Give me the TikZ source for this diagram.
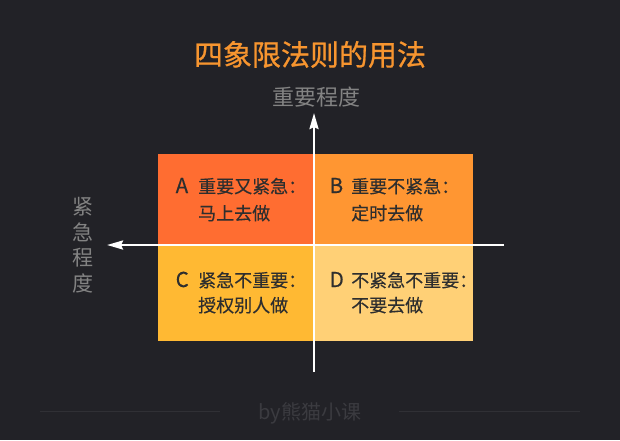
\documentclass[tikz,border=0pt]{standalone}
\usepackage{fontspec}
\setmainfont{Noto Sans CJK SC}
\newfontfamily\titlefont[FakeBold=0.7]{Noto Sans CJK SC}
\newfontfamily\quadfont[FakeBold=0.3]{Noto Sans CJK SC}
\usetikzlibrary{arrows.meta}
\definecolor{bg}{HTML}{222227}
\definecolor{titlec}{HTML}{F7952F}
\definecolor{axislabel}{HTML}{838383}
\definecolor{qacol}{HTML}{FF6D31}
\definecolor{qbcol}{HTML}{FF9632}
\definecolor{qccol}{HTML}{FFB933}
\definecolor{qdcol}{HTML}{FFD076}
\definecolor{qtextc}{HTML}{2E2E2E}
\definecolor{footc}{HTML}{3B3B40}
\definecolor{footline}{HTML}{303035}
\tikzset{
  quad/.style={draw=none, inner sep=0pt, outer sep=0pt, anchor=north west},
  qtext/.style={text=qtextc, inner sep=0pt, anchor=base west, font=\quadfont\fontsize{18}{22}\selectfont},
  qletter/.style={qtext, font=\quadfont\fontsize{20.5}{22}\selectfont},
  axisline/.style={draw=white, line width=2.5pt, -{Stealth[length=16pt,width=9pt,inset=2pt]}},
  axistext/.style={text=axislabel, inner sep=0pt, font=\fontsize{22}{26}\selectfont}
}
\begin{document}
\begin{tikzpicture}[x=1pt,y=-1pt]
\fill[bg] (0,0) rectangle (620,440);
\useasboundingbox (0,0) rectangle (620,440);

% title
\node[text=titlec, inner sep=0pt, anchor=base, font=\titlefont\fontsize{29}{34}\selectfont] (title) at (310,65.5) {四象限法则的用法};

% quadrants
\node[quad, fill=qacol, minimum width=156pt, minimum height=91pt] (qa) at (158,154) {};
\node[quad, fill=qbcol, minimum width=159pt, minimum height=91pt] (qb) at (314,154) {};
\node[quad, fill=qccol, minimum width=156pt, minimum height=96pt] (qc) at (158,245) {};
\node[quad, fill=qdcol, minimum width=159pt, minimum height=96pt] (qd) at (314,245) {};

% quadrant texts
\node[qletter] (la) at (175.5,193) {A};
\node[qtext] (ta1) at (198,193) {重要又紧急：};
\node[qtext] (ta2) at (198,220) {马上去做};
\node[qletter] (lb) at (329.5,193) {B};
\node[qtext] (tb1) at (351,193) {重要不紧急：};
\node[qtext] (tb2) at (351,220) {定时去做};
\node[qletter] (lc) at (175.5,287) {C};
\node[qtext] (tc1) at (198,287) {紧急不重要：};
\node[qtext] (tc2) at (198,312) {授权别人做};
\node[qletter] (ld) at (329.5,287) {D};
\node[qtext] (td1) at (351,287) {不紧急不重要：};
\node[qtext] (td2) at (351,312) {不要去做};

% axes
\coordinate (vbot) at (314,372);
\coordinate (vtop) at (314,113);
\coordinate (hright) at (504,245);
\coordinate (hleft) at (107,245);
\draw[axisline] (vbot) -- (vtop);
\draw[axisline] (hright) -- (hleft);

% axis labels
\node[axistext, anchor=base] (ylab) at (316,105.5) {重要程度};
\node[axistext, anchor=center, align=center, font=\fontsize{21}{25.5}\selectfont] (xlab) at (83,245) {紧\\急\\程\\度};

% footer
\node[text=footc, inner sep=0pt, anchor=base, font=\fontsize{20}{24}\selectfont] (foot) at (310,419.5) {by熊猫小课};
\coordinate (fl1) at (40,411);
\coordinate (fl2) at (220,411);
\coordinate (fr1) at (399,411);
\coordinate (fr2) at (580,411);
\draw[footline, line width=1pt] (fl1) -- (fl2);
\draw[footline, line width=1pt] (fr1) -- (fr2);
\end{tikzpicture}
\end{document}
